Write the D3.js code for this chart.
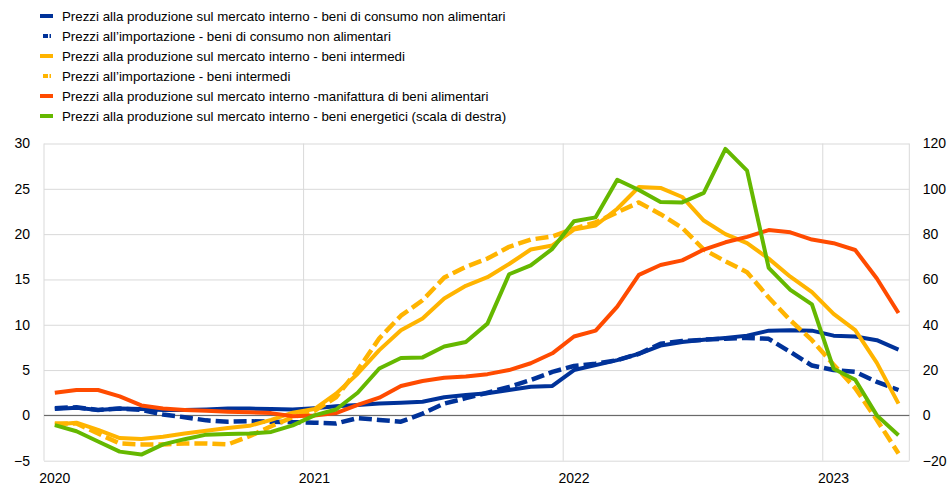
<!DOCTYPE html>
<html>
<head>
<meta charset="utf-8">
<script src="https://cdn.jsdelivr.net/npm/d3@7"></script>
<style>
  html, body { margin: 0; padding: 0; background: #fff; }
  svg { display: block; font-family: "Liberation Sans", Arial, sans-serif; }
</style>
</head>
<body>
<div id="chart"></div>
<script>
// monthly observations, Jan 2020 - Apr 2023
var months = [
  '2020-01','2020-02','2020-03','2020-04','2020-05','2020-06','2020-07','2020-08','2020-09','2020-10','2020-11','2020-12',
  '2021-01','2021-02','2021-03','2021-04','2021-05','2021-06','2021-07','2021-08','2021-09','2021-10','2021-11','2021-12',
  '2022-01','2022-02','2022-03','2022-04','2022-05','2022-06','2022-07','2022-08','2022-09','2022-10','2022-11','2022-12',
  '2023-01','2023-02','2023-03','2023-04'
];
var yearTicks = ['2020-01', '2021-01', '2022-01', '2023-01'];
var leftTicks = [-5, 0, 5, 10, 15, 20, 25, 30];
var rightTicks = [-20, 0, 20, 40, 60, 80, 100, 120];

var ppiConsumer = [0.7, 0.85, 0.6, 0.75, 0.7, 0.6, 0.6, 0.65, 0.75, 0.75, 0.7, 0.65,
  0.8, 1.0, 1.15, 1.3, 1.4, 1.5, 2.0, 2.25, 2.45, 2.8, 3.15, 3.25,
  5.0, 5.55, 6.1, 6.8, 7.7, 8.1, 8.35, 8.55, 8.8, 9.35, 9.4, 9.35,
  8.8, 8.7, 8.3, 7.25];
var impConsumer = [0.8, 0.9, 0.6, 0.75, 0.6, 0.1, -0.2, -0.55, -0.7, -0.65, -0.7, -0.75,
  -0.8, -0.9, -0.3, -0.5, -0.7, 0.2, 1.3, 1.9, 2.5, 3.15, 3.9, 4.8,
  5.45, 5.7, 6.1, 6.8, 7.9, 8.2, 8.35, 8.45, 8.55, 8.45, 7.0, 5.5,
  5.0, 4.8, 3.7, 2.8];
var ppiIntermediate = [-1.0, -0.8, -1.6, -2.5, -2.6, -2.35, -2.0, -1.7, -1.4, -1.15, -0.5, 0.3,
  0.7, 2.4, 4.6, 7.2, 9.4, 10.7, 12.9, 14.3, 15.25, 16.7, 18.3, 18.75,
  20.5, 20.95, 22.8, 25.2, 25.1, 24.1, 21.5, 20.0, 19.0, 17.3, 15.3, 13.6,
  11.2, 9.4, 5.8, 1.3];
var impIntermediate = [-0.9, -0.9, -2.0, -3.1, -3.2, -3.2, -3.1, -3.1, -3.2, -2.3, -1.2, -0.2,
  0.5, 2.0, 5.0, 8.5, 11.0, 12.7, 15.2, 16.4, 17.3, 18.6, 19.4, 19.75,
  20.6, 21.3, 22.4, 23.5, 22.2, 20.7, 18.3, 17.0, 15.8, 13.0, 10.5, 8.3,
  5.6, 3.0, -0.5, -4.2];
var ppiFood = [2.5, 2.8, 2.8, 2.1, 1.1, 0.75, 0.6, 0.5, 0.4, 0.35, 0.25, -0.1,
  0.0, 0.25, 1.15, 1.95, 3.25, 3.8, 4.15, 4.3, 4.55, 5.0, 5.75, 6.85,
  8.7, 9.35, 12.0, 15.5, 16.6, 17.1, 18.3, 19.1, 19.7, 20.45, 20.2, 19.4,
  19.0, 18.25, 15.1, 11.3];
// right-hand scale
var ppiEnergy = [-4.3, -7.0, -11.5, -16.0, -17.3, -12.8, -10.5, -8.5, -8.2, -8.0, -7.3, -4.4,
  0.0, 2.6, 10.0, 20.7, 25.3, 25.6, 30.4, 32.4, 40.5, 62.3, 66.2, 73.5,
  85.7, 87.4, 104.0, 99.5, 94.2, 94.0, 98.2, 117.6, 108.0, 65.1, 55.4, 49.0,
  20.6, 15.7, 0.0, -8.8];

var seriesNames = [
  'Prezzi alla produzione sul mercato interno - beni di consumo non alimentari',
  'Prezzi all\u2019importazione - beni di consumo non alimentari',
  'Prezzi alla produzione sul mercato interno - beni intermedi',
  'Prezzi all\u2019importazione - beni intermedi',
  'Prezzi alla produzione sul mercato interno -manifattura di beni alimentari',
  'Prezzi alla produzione sul mercato interno - beni energetici (scala di destra)'
];

var COLORS = { blue: '#003299', yellow: '#ffb400', orange: '#ff4b00', green: '#65b800',
  grid: '#d9d9d9', zero: '#595959', text: '#000' };

var series = [
  { name: seriesNames[0], values: ppiConsumer,     color: COLORS.blue,   dashed: false, right: false },
  { name: seriesNames[1], values: impConsumer,     color: COLORS.blue,   dashed: true,  right: false },
  { name: seriesNames[2], values: ppiIntermediate, color: COLORS.yellow, dashed: false, right: false },
  { name: seriesNames[3], values: impIntermediate, color: COLORS.yellow, dashed: true,  right: false },
  { name: seriesNames[4], values: ppiFood,         color: COLORS.orange, dashed: false, right: false },
  { name: seriesNames[5], values: ppiEnergy,       color: COLORS.green,  dashed: false, right: true }
];

var width = 947, height = 485;
var margin = { top: 143.5, right: 37.7, bottom: 24.3, left: 44 };
var iw = width - margin.left - margin.right;
var ih = height - margin.top - margin.bottom;

var svg = d3.select('#chart').append('svg')
  .attr('width', width).attr('height', height);

var g = svg.append('g').attr('transform', 'translate(' + margin.left + ',' + margin.top + ')');

var x = d3.scaleBand().domain(months).range([0, iw]).paddingInner(0).paddingOuter(0);
var yL = d3.scaleLinear().domain([-5, 30]).range([ih, 0]);
var yR = d3.scaleLinear().domain([-20, 120]).range([ih, 0]);
var cx = function (m) { return x(m) + x.bandwidth() / 2; };

// horizontal grid
g.append('g')
  .call(d3.axisLeft(yL).tickValues(leftTicks).tickSize(-iw).tickFormat(''))
  .call(function (s) {
    s.select('.domain').remove();
    s.selectAll('line').attr('stroke', COLORS.grid).attr('stroke-width', 1);
  });

// vertical grid at year boundaries + right border
g.append('g')
  .selectAll('line')
  .data(yearTicks)
  .join('line')
  .attr('x1', function (d) { return x(d); })
  .attr('x2', function (d) { return x(d); })
  .attr('y1', 0).attr('y2', ih)
  .attr('stroke', COLORS.grid);
g.append('line')
  .attr('x1', iw).attr('x2', iw).attr('y1', 0).attr('y2', ih)
  .attr('stroke', COLORS.grid);

// zero line
g.append('line')
  .attr('x1', 0).attr('x2', iw)
  .attr('y1', yL(0)).attr('y2', yL(0))
  .attr('stroke', COLORS.zero).attr('stroke-width', 1);

// left axis labels
g.append('g')
  .call(d3.axisLeft(yL).tickValues(leftTicks).tickSize(0).tickPadding(14))
  .call(function (s) {
    s.select('.domain').remove();
    s.selectAll('text').attr('fill', COLORS.text).style('font-size', '14px');
  });

// right axis labels
g.append('g')
  .attr('transform', 'translate(' + iw + ',0)')
  .call(d3.axisRight(yR).tickValues(rightTicks).tickSize(0).tickPadding(13.5))
  .call(function (s) {
    s.select('.domain').remove();
    s.selectAll('text').attr('fill', COLORS.text).style('font-size', '14px');
  });

// x axis labels (centred on January)
g.append('g')
  .attr('transform', 'translate(0,' + ih + ')')
  .call(d3.axisBottom(x).tickValues(yearTicks).tickSize(0).tickPadding(12)
    .tickFormat(function (m) { return m.slice(0, 4); }))
  .call(function (s) {
    s.select('.domain').remove();
    s.selectAll('text').attr('fill', COLORS.text).style('font-size', '14px');
  });

// lines
series.forEach(function (s) {
  var yScale = s.right ? yR : yL;
  var line = d3.line()
    .x(function (d, i) { return cx(months[i]); })
    .y(function (d) { return yScale(d); });
  g.append('path')
    .datum(s.values)
    .attr('fill', 'none')
    .attr('stroke', s.color)
    .attr('stroke-width', s.dashed ? 4.5 : 4)
    .attr('stroke-linejoin', 'round')
    .attr('stroke-dasharray', s.dashed ? '13,5' : null)
    .attr('d', line);
});

// legend
var legend = svg.append('g').attr('transform', 'translate(40,16)');
var lg = legend.selectAll('g').data(series).join('g')
  .attr('transform', function (d, i) { return 'translate(0,' + (i * 20) + ')'; });
lg.append('line')
  .attr('x1', function (d) { return d.dashed ? 3 : 0; })
  .attr('x2', function (d) { return d.dashed ? 11 : 13; })
  .attr('y1', 0).attr('y2', 0)
  .attr('stroke', function (d) { return d.color; })
  .attr('stroke-width', 4)
  .attr('stroke-dasharray', function (d) { return d.dashed ? '5,1.5' : null; });
lg.append('text')
  .attr('x', 22)
  .attr('y', 5)
  .attr('fill', COLORS.text)
  .style('font-size', '13.3px')
  .text(function (d) { return d.name; });
</script>
</body>
</html>
